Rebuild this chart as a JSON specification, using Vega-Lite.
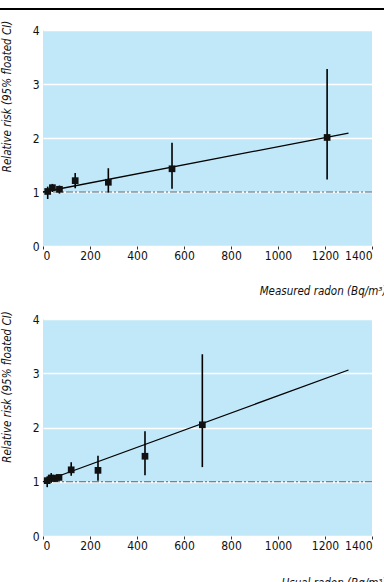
{
  "$schema": "https://vega.github.io/schema/vega-lite/v6.json",
  "padding": {"left": -3, "top": 7, "right": 0, "bottom": 0},
  "spacing": 13,
  "background": "white",
  "config": {
    "view": {"fill": "#c0e8f9", "stroke": null},
    "font": "'DejaVu Sans Condensed', 'Liberation Sans', sans-serif",
    "axis": {"labelFont": "'DejaVu Sans Condensed', 'Liberation Sans', sans-serif", "labelFontSize": 12, "labelColor": "#111", "titleFont": "'DejaVu Sans Condensed', 'Liberation Sans', sans-serif", "titleFontSize": 11.5, "titleFontStyle": "italic", "titleFontWeight": "normal", "titleColor": "#111", "format": "d"}
  },
  "datasets": {
    "measured": [
      {"radon": 20, "rr": 1.01, "lo": 0.87, "hi": 1.10},
      {"radon": 40, "rr": 1.08, "lo": 1.00, "hi": 1.15},
      {"radon": 70, "rr": 1.05, "lo": 0.97, "hi": 1.12},
      {"radon": 137, "rr": 1.21, "lo": 1.07, "hi": 1.35},
      {"radon": 278, "rr": 1.18, "lo": 0.99, "hi": 1.44},
      {"radon": 549, "rr": 1.43, "lo": 1.06, "hi": 1.91},
      {"radon": 1209, "rr": 2.01, "lo": 1.23, "hi": 3.28}
    ],
    "usual": [
      {"radon": 18, "rr": 1.02, "lo": 0.90, "hi": 1.10},
      {"radon": 35, "rr": 1.07, "lo": 0.98, "hi": 1.16},
      {"radon": 50, "rr": 1.06, "lo": 1.00, "hi": 1.12},
      {"radon": 68, "rr": 1.08, "lo": 1.02, "hi": 1.13},
      {"radon": 120, "rr": 1.22, "lo": 1.11, "hi": 1.36},
      {"radon": 234, "rr": 1.21, "lo": 1.02, "hi": 1.48},
      {"radon": 434, "rr": 1.47, "lo": 1.12, "hi": 1.93},
      {"radon": 678, "rr": 2.05, "lo": 1.27, "hi": 3.35}
    ],
    "fit_measured": [
      {"radon": 0, "rr": 1.0},
      {"radon": 1300, "rr": 2.09}
    ],
    "fit_usual": [
      {"radon": 0, "rr": 1.0},
      {"radon": 1300, "rr": 3.06}
    ]
  },
  "vconcat": [
    {
      "width": 329,
      "height": 216,
      "layer": [
        {
          "data": {"values": [{}]},
          "mark": {"type": "rule", "color": "#000", "strokeWidth": 2, "clip": false},
          "encoding": {
            "x": {"datum": -188, "type": "quantitative", "scale": {"domain": [0, 1400], "nice": false}},
            "x2": {"datum": 1500},
            "y": {"datum": 4.39, "type": "quantitative", "scale": {"domain": [0, 4], "nice": false}}
          }
        },
        {
          "data": {"values": [{}]},
          "mark": {"type": "rule", "color": "#4a6679", "strokeWidth": 1.2, "strokeDash": [7, 2, 2, 2]},
          "encoding": {"y": {"datum": 1, "type": "quantitative"}}
        },
        {
          "data": {"name": "measured"},
          "mark": {"type": "rule", "color": "#000", "strokeWidth": 1.6},
          "encoding": {
            "x": {"field": "radon", "type": "quantitative"},
            "y": {"field": "lo", "type": "quantitative"},
            "y2": {"field": "hi"}
          }
        },
        {
          "data": {"name": "fit_measured"},
          "mark": {"type": "line", "color": "#000", "strokeWidth": 1.3},
          "encoding": {
            "x": {"field": "radon", "type": "quantitative"},
            "y": {"field": "rr", "type": "quantitative"}
          }
        },
        {
          "data": {"name": "measured"},
          "mark": {"type": "point", "shape": "square", "filled": true, "color": "#111", "opacity": 1, "size": 45},
          "encoding": {
            "x": {"field": "radon", "type": "quantitative", "axis": {"values": [0, 200, 400, 600, 800, 1000, 1200, 1400], "grid": false, "domain": false, "ticks": true, "tickSize": 3, "tickColor": "#333", "labelPadding": 1, "title": "Measured radon (Bq/m³)", "titleAnchor": "end", "titleAlign": "right", "titleX": 343, "titleY": 48, "titleBaseline": "alphabetic"}},
            "y": {"field": "rr", "type": "quantitative", "axis": {"values": [0, 1, 2, 3, 4], "grid": true, "gridColor": "#ffffff", "gridWidth": 1.5, "gridOpacity": 1, "domain": false, "ticks": false, "labelPadding": 4, "title": "Relative risk (95% floated CI)", "titleX": -36, "titleY": 66, "titleAlign": "center", "titleBaseline": "middle", "titleAngle": 270}}
          }
        }
      ]
    },
    {
      "width": 329,
      "height": 217,
      "layer": [
        {
          "data": {"values": [{}]},
          "mark": {"type": "rule", "color": "#4a6679", "strokeWidth": 1.2, "strokeDash": [7, 2, 2, 2]},
          "encoding": {"y": {"datum": 1, "type": "quantitative", "scale": {"domain": [0, 4], "nice": false}}}
        },
        {
          "data": {"name": "usual"},
          "mark": {"type": "rule", "color": "#000", "strokeWidth": 1.6},
          "encoding": {
            "x": {"field": "radon", "type": "quantitative", "scale": {"domain": [0, 1400], "nice": false}},
            "y": {"field": "lo", "type": "quantitative"},
            "y2": {"field": "hi"}
          }
        },
        {
          "data": {"name": "fit_usual"},
          "mark": {"type": "line", "color": "#000", "strokeWidth": 1.3},
          "encoding": {
            "x": {"field": "radon", "type": "quantitative"},
            "y": {"field": "rr", "type": "quantitative"}
          }
        },
        {
          "data": {"name": "usual"},
          "mark": {"type": "point", "shape": "square", "filled": true, "color": "#111", "opacity": 1, "size": 45},
          "encoding": {
            "x": {"field": "radon", "type": "quantitative", "axis": {"values": [0, 200, 400, 600, 800, 1000, 1200, 1400], "grid": false, "domain": false, "ticks": true, "tickSize": 3, "tickColor": "#333", "labelPadding": 1, "title": "Usual radon (Bq/m³)", "titleAnchor": "end", "titleAlign": "right", "titleX": 343, "titleY": 50, "titleBaseline": "alphabetic"}},
            "y": {"field": "rr", "type": "quantitative", "axis": {"values": [0, 1, 2, 3, 4], "grid": true, "gridColor": "#ffffff", "gridWidth": 1.5, "gridOpacity": 1, "domain": false, "ticks": false, "labelPadding": 4, "title": "Relative risk (95% floated CI)", "titleX": -36, "titleY": 67.5, "titleAlign": "center", "titleBaseline": "middle", "titleAngle": 270}}
          }
        }
      ]
    }
  ]
}
